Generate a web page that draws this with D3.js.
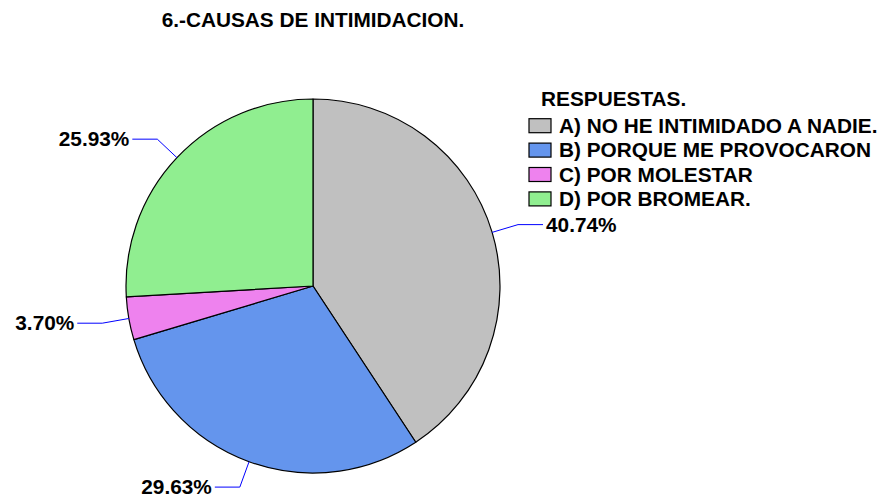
<!DOCTYPE html>
<html>
<head>
<meta charset="utf-8">
<script src="https://cdn.jsdelivr.net/npm/d3@7"></script>
<style>
  html, body { margin: 0; padding: 0; background: #ffffff; }
  svg { display: block; }
  text { font-family: "Liberation Sans", Arial, sans-serif; font-weight: bold; fill: #000; }
</style>
</head>
<body>
<svg id="chart" width="885" height="500"></svg>
<script>
const title = "6.-CAUSAS DE INTIMIDACION.";
const legendTitle = "RESPUESTAS.";
const categories = [
  "A) NO HE INTIMIDADO A NADIE.",
  "B) PORQUE ME PROVOCARON",
  "C) POR MOLESTAR",
  "D) POR BROMEAR."
];
const values = [40.74, 29.63, 3.70, 25.93];
const colors = ["#C0C0C0", "#6495ED", "#EE82EE", "#90EE90"];

const W = 885, H = 500;
const cx = 313, cy = 286, R = 187;
const fontSize = 20.8;

const svg = d3.select("#chart");

svg.append("text")
  .attr("x", cx).attr("y", 27)
  .attr("text-anchor", "middle")
  .style("font-size", fontSize + "px")
  .text(title);

const data = categories.map((c, i) => ({ cat: c, value: values[i], color: colors[i] }));

const pie = d3.pie().value(d => d.value).sort(null)
  .startAngle(0).endAngle(2 * Math.PI);
const arcs = pie(data);

const arc = d3.arc().innerRadius(0).outerRadius(R);
const g = svg.append("g").attr("transform", `translate(${cx},${cy})`);

g.selectAll("path.slice").data(arcs).enter().append("path")
  .attr("class", "slice")
  .attr("d", arc)
  .attr("fill", d => d.data.color)
  .attr("stroke", "#000")
  .attr("stroke-width", 1.2)
  .attr("stroke-linejoin", "round");

// leader lines + labels
const elbowR = 214, hLen = 25, gap = 3;
const fmt = v => v.toFixed(2) + "%";
arcs.forEach(a => {
  const mid = (a.startAngle + a.endAngle) / 2;
  const sx = R * Math.sin(mid), sy = -R * Math.cos(mid);
  const ex = elbowR * Math.sin(mid), ey = -elbowR * Math.cos(mid);
  const right = Math.sin(mid) >= 0;
  const hx = ex + (right ? hLen : -hLen);
  g.append("polyline")
    .attr("points", `${sx},${sy} ${ex},${ey} ${hx},${ey}`)
    .attr("fill", "none")
    .attr("stroke", "#0000FF")
    .attr("stroke-width", 1);
  g.append("text")
    .attr("x", hx + (right ? gap : -gap))
    .attr("y", ey + 7)
    .attr("text-anchor", right ? "start" : "end")
    .style("font-size", fontSize + "px")
    .text(fmt(a.data.value));
});

// legend
const lx = 529, ly0 = 132.7, rowH = 24.4;
svg.append("text")
  .attr("x", 541).attr("y", 106)
  .style("font-size", fontSize + "px")
  .text(legendTitle);

const lg = svg.selectAll("g.leg").data(data).enter().append("g").attr("class", "leg");
lg.append("rect")
  .attr("x", lx)
  .attr("y", (d, i) => ly0 + i * rowH - 14)
  .attr("width", 22).attr("height", 14)
  .attr("fill", d => d.color)
  .attr("stroke", "#000").attr("stroke-width", 1.2);
lg.append("text")
  .attr("x", lx + 30)
  .attr("y", (d, i) => ly0 + i * rowH)
  .style("font-size", fontSize + "px")
  .text(d => d.cat);
</script>
</body>
</html>
